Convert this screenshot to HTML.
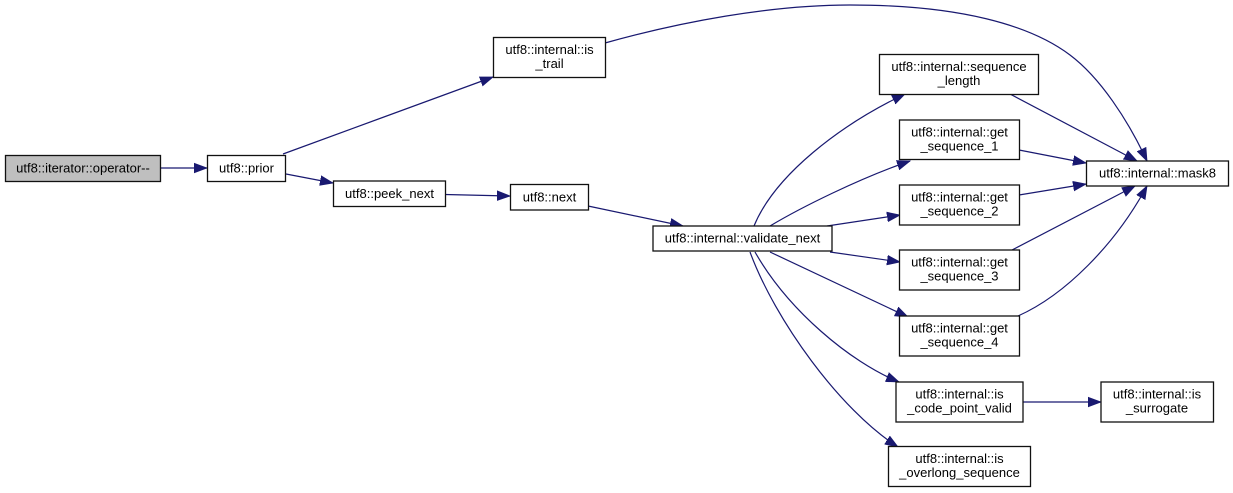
<!DOCTYPE html>
<html>
<head>
<meta charset="utf-8">
<style>
  html, body { margin:0; padding:0; background:#ffffff; }
  body { width:1233px; height:493px; overflow:hidden; }
  svg { display:block; }
  text { font-family: "Liberation Sans", Arial, sans-serif; font-size:13px; fill:#000; }
  .box { fill:#ffffff; stroke:#111111; stroke-width:1.3; }
  .edge { fill:none; stroke:#191970; stroke-width:1.2; }
</style>
</head>
<body>
<svg width="1233" height="493" viewBox="0 0 1233 493" xmlns="http://www.w3.org/2000/svg">
  <defs>
    <marker id="ah" markerUnits="userSpaceOnUse" markerWidth="14" markerHeight="12" viewBox="0 -6 14 12" refX="13" refY="0" orient="auto">
      <polygon points="0,-4.8 13,0 0,4.8" fill="#191970" stroke="#191970" stroke-width="0.8"/>
    </marker>
  </defs>

  <!-- edges -->
  <path class="edge" marker-end="url(#ah)" d="M160,168 L207,168"/>
  <path class="edge" marker-end="url(#ah)" d="M283,154 L493,77"/>
  <path class="edge" marker-end="url(#ah)" d="M286,174 L333,183"/>
  <path class="edge" marker-end="url(#ah)" d="M445,194.5 L510,196"/>
  <path class="edge" marker-end="url(#ah)" d="M588,206 L683,226"/>
  <path class="edge" marker-end="url(#ah)" d="M605,43 C680,22 770,5 850,5 C960,5 1030,25 1070,55 C1100,77.5 1128,120 1147,161"/>
  <path class="edge" marker-end="url(#ah)" d="M754,226 C775,175 840,125 905,94"/>
  <path class="edge" marker-end="url(#ah)" d="M770,226 C800,208 860,178 910,161"/>
  <path class="edge" marker-end="url(#ah)" d="M827,226 L900,215"/>
  <path class="edge" marker-end="url(#ah)" d="M830,252 L900,262"/>
  <path class="edge" marker-end="url(#ah)" d="M770,252 L908,317"/>
  <path class="edge" marker-end="url(#ah)" d="M755,252 C788,310 850,362 899,382"/>
  <path class="edge" marker-end="url(#ah)" d="M750,252 C775,320 840,410 898,447"/>
  <path class="edge" marker-end="url(#ah)" d="M1010,94 L1137,161"/>
  <path class="edge" marker-end="url(#ah)" d="M1019,150 L1086,163"/>
  <path class="edge" marker-end="url(#ah)" d="M1019,195 L1086,184"/>
  <path class="edge" marker-end="url(#ah)" d="M1012,250 L1135,186"/>
  <path class="edge" marker-end="url(#ah)" d="M1018,316 C1065,295 1115,245 1147,186"/>
  <path class="edge" marker-end="url(#ah)" d="M1023,402 L1101,402"/>

  <!-- nodes -->
  <rect x="5.5" y="155.5" width="155" height="26" fill="#bfbfbf" stroke="#111111" stroke-width="1.3"/>
  <text x="83" y="172.5" text-anchor="middle">utf8::iterator::operator--</text>

  <rect class="box" x="207.5" y="155.5" width="78" height="26"/>
  <text x="246.5" y="172.5" text-anchor="middle">utf8::prior</text>

  <rect class="box" x="333.5" y="181" width="112" height="25.5"/>
  <text x="389.5" y="198" text-anchor="middle">utf8::peek_next</text>

  <rect class="box" x="493.5" y="37.5" width="112" height="40"/>
  <text x="549.5" y="54" text-anchor="middle">utf8::internal::is</text>
  <text x="549.5" y="68" text-anchor="middle">_trail</text>

  <rect class="box" x="510.5" y="184.5" width="78" height="25.5"/>
  <text x="549.5" y="201.5" text-anchor="middle">utf8::next</text>

  <rect class="box" x="653" y="226" width="179" height="25"/>
  <text x="742.5" y="242.5" text-anchor="middle">utf8::internal::validate_next</text>

  <rect class="box" x="879.5" y="54.5" width="159" height="40"/>
  <text x="959" y="71" text-anchor="middle">utf8::internal::sequence</text>
  <text x="959" y="85" text-anchor="middle">_length</text>

  <rect class="box" x="899.5" y="120" width="120" height="39.5"/>
  <text x="959.5" y="136.5" text-anchor="middle">utf8::internal::get</text>
  <text x="959.5" y="150.5" text-anchor="middle">_sequence_1</text>

  <rect class="box" x="899.5" y="185" width="120" height="40"/>
  <text x="959.5" y="201.5" text-anchor="middle">utf8::internal::get</text>
  <text x="959.5" y="215.5" text-anchor="middle">_sequence_2</text>

  <rect class="box" x="899.5" y="250" width="120" height="40"/>
  <text x="959.5" y="266.5" text-anchor="middle">utf8::internal::get</text>
  <text x="959.5" y="280.5" text-anchor="middle">_sequence_3</text>

  <rect class="box" x="899.5" y="316" width="120" height="40"/>
  <text x="959.5" y="332.5" text-anchor="middle">utf8::internal::get</text>
  <text x="959.5" y="346.5" text-anchor="middle">_sequence_4</text>

  <rect class="box" x="1086.5" y="161" width="142" height="25"/>
  <text x="1157.5" y="177.5" text-anchor="middle">utf8::internal::mask8</text>

  <rect class="box" x="896" y="382" width="127" height="40"/>
  <text x="959.5" y="398.5" text-anchor="middle">utf8::internal::is</text>
  <text x="959.5" y="412.5" text-anchor="middle">_code_point_valid</text>

  <rect class="box" x="1101" y="382" width="112.5" height="40"/>
  <text x="1157" y="398.5" text-anchor="middle">utf8::internal::is</text>
  <text x="1157" y="412.5" text-anchor="middle">_surrogate</text>

  <rect class="box" x="888.5" y="446.5" width="142" height="40"/>
  <text x="959.5" y="463" text-anchor="middle">utf8::internal::is</text>
  <text x="959.5" y="477" text-anchor="middle">_overlong_sequence</text>
</svg>
</body>
</html>
